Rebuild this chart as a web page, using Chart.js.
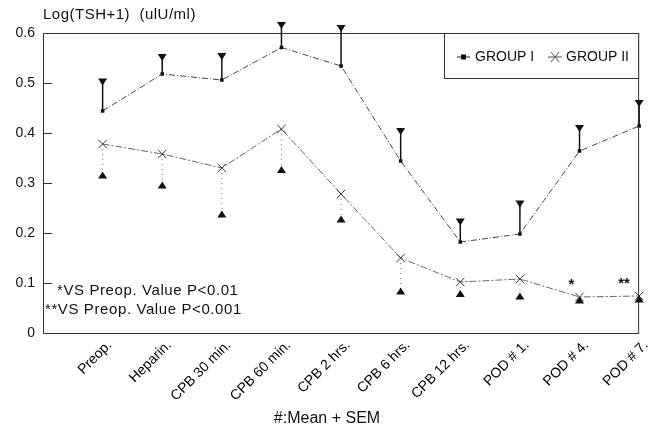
<!DOCTYPE html>
<html>
<head>
<meta charset="utf-8">
<script src="https://cdn.jsdelivr.net/npm/chart.js@4/dist/chart.umd.min.js"></script>
<style>
  html, body { margin: 0; padding: 0; background: #fff; }
  #wrap { width: 655px; height: 427px; }
</style>
</head>
<body>
<div id="wrap"><canvas id="chart" width="655" height="427"></canvas></div>
<script>
const categories = ["Preop.", "Heparin.", "CPB 30 min.", "CPB 60 min.", "CPB 2 hrs.",
  "CPB 6 hrs.", "CPB 12 hrs.", "POD # 1.", "POD # 4.", "POD # 7."];

const groupI = [0.444, 0.518, 0.506, 0.571, 0.534, 0.344, 0.182, 0.198, 0.364, 0.414];
const groupIUpper = [0.502, 0.551, 0.553, 0.615, 0.609, 0.403, 0.222, 0.258, 0.409, 0.459];

const groupII = [0.378, 0.358, 0.330, 0.408, 0.278, 0.150, 0.102, 0.108, 0.072, 0.074];
const groupIILower = [0.316, 0.296, 0.238, 0.327, 0.228, 0.084, 0.079, 0.074, 0.066, 0.068];

const sigMarks = ["", "", "", "", "", "", "", "", "*", "**"];

const yTicks = [0, 0.1, 0.2, 0.3, 0.4, 0.5, 0.6];

const FONT = "Arial, 'Liberation Sans', sans-serif";

function triangle(ctx, x, y, up) {
  const hw = 4.5, hh = 3.5;
  ctx.beginPath();
  if (up) {
    ctx.moveTo(x, y - hh);
    ctx.lineTo(x + hw, y + hh);
    ctx.lineTo(x - hw, y + hh);
  } else {
    ctx.moveTo(x, y + hh);
    ctx.lineTo(x + hw, y - hh);
    ctx.lineTo(x - hw, y - hh);
  }
  ctx.closePath();
  ctx.fill();
}

const decorations = {
  id: "decorations",
  afterDatasetsDraw(chart) {
    const { ctx, chartArea, scales } = chart;
    const yScale = scales.y;
    const m1 = chart.getDatasetMeta(0);
    const m2 = chart.getDatasetMeta(1);
    ctx.save();

    // frame
    ctx.strokeStyle = "#333";
    ctx.lineWidth = 1;
    ctx.strokeRect(chartArea.left + 0.5, chartArea.top + 0.5,
      chartArea.right - chartArea.left - 1, chartArea.bottom - chartArea.top);

    // inner y ticks
    yTicks.forEach(v => {
      const py = Math.round(yScale.getPixelForValue(v)) + 0.5;
      ctx.beginPath();
      ctx.moveTo(chartArea.left, py);
      ctx.lineTo(chartArea.left + 9, py);
      ctx.stroke();
    });

    // group I: mean + SEM
    ctx.fillStyle = "#111";
    ctx.strokeStyle = "#111";
    ctx.lineWidth = 1.5;
    m1.data.forEach((pt, i) => {
      const top = yScale.getPixelForValue(groupIUpper[i]);
      ctx.beginPath();
      ctx.moveTo(pt.x, pt.y);
      ctx.lineTo(pt.x, top);
      ctx.stroke();
      triangle(ctx, pt.x, top, false);
    });

    // group II: mean - SEM (dotted)
    ctx.strokeStyle = "#777";
    ctx.lineWidth = 1;
    ctx.setLineDash([1, 4]);
    m2.data.forEach((pt, i) => {
      const low = yScale.getPixelForValue(groupIILower[i]);
      ctx.beginPath();
      ctx.moveTo(pt.x, pt.y + 5);
      ctx.lineTo(pt.x, low);
      ctx.stroke();
    });
    ctx.setLineDash([]);
    m2.data.forEach((pt, i) => {
      triangle(ctx, pt.x, yScale.getPixelForValue(groupIILower[i]), true);
    });

    // significance marks
    ctx.font = "bold 15px " + FONT;
    ctx.textAlign = "center";
    ctx.textBaseline = "middle";
    m2.data.forEach((pt, i) => {
      if (!sigMarks[i]) return;
      const dx = sigMarks[i].length > 1 ? -15 : -8;
      ctx.fillText(sigMarks[i], pt.x + dx, yScale.getPixelForValue(groupII[i] + 0.024));
    });

    // x axis title
    ctx.font = "16px " + FONT;
    ctx.fillText("#:Mean + SEM", 327, 419);

    // y axis title
    ctx.font = "15px " + FONT;
    ctx.letterSpacing = "0.5px";
    ctx.textAlign = "left";
    ctx.fillText("Log(TSH+1)  (ulU/ml)", chartArea.left, 15);

    // footnotes
    ctx.letterSpacing = "0.6px";
    ctx.fillText("*VS Preop. Value P<0.01", chartArea.left + 14, 291);
    ctx.fillText("**VS Preop. Value P<0.001", chartArea.left + 2, 310);
    ctx.letterSpacing = "0px";

    // legend box
    const lx = 444, ly = chartArea.top, lw = chartArea.right - 444, lh = 45;
    ctx.fillStyle = "#fff";
    ctx.fillRect(lx, ly, lw, lh);
    ctx.strokeStyle = "#333";
    ctx.strokeRect(lx + 0.5, ly + 0.5, lw - 1, lh);
    const my = ly + 24;
    ctx.font = "14px " + FONT;
    ctx.fillStyle = "#111";
    ctx.strokeStyle = "#222";
    ctx.beginPath();
    ctx.moveTo(457, my); ctx.lineTo(470, my);
    ctx.stroke();
    ctx.fillRect(461, my - 2.5, 5, 5);
    ctx.fillText("GROUP I", 475, my);
    ctx.strokeStyle = "#555";
    ctx.beginPath();
    ctx.moveTo(548, my); ctx.lineTo(562, my);
    ctx.moveTo(551, my - 5); ctx.lineTo(559, my + 5);
    ctx.moveTo(559, my - 5); ctx.lineTo(551, my + 5);
    ctx.stroke();
    ctx.fillText("GROUP II", 566, my);

    ctx.restore();
  }
};

new Chart(document.getElementById("chart"), {
  type: "line",
  data: {
    labels: ["", ...categories],
    datasets: [
      {
        label: "GROUP I",
        data: categories.map((c, i) => ({ x: c, y: groupI[i] })),
        borderColor: "#444",
        borderWidth: 1,
        borderDash: [6, 2, 1, 2],
        pointStyle: "rect",
        pointRadius: 2.5,
        pointBackgroundColor: "#111",
        pointBorderColor: "#111",
        pointBorderWidth: 0,
        tension: 0,
        fill: false,
      },
      {
        label: "GROUP II",
        data: categories.map((c, i) => ({ x: c, y: groupII[i] })),
        borderColor: "#666",
        borderWidth: 1,
        borderDash: [7, 2, 2, 2],
        pointStyle: "crossRot",
        pointRadius: 6,
        pointBorderColor: "#333",
        pointBorderWidth: 1,
        tension: 0,
        fill: false,
      },
    ],
  },
  options: {
    responsive: false,
    animation: false,
    layout: { padding: { top: 33, right: 10, left: 0, bottom: 0 } },
    plugins: {
      legend: { display: false },
      tooltip: { enabled: false },
    },
    scales: {
      x: {
        type: "category",
        offset: false,
        grid: { display: false, drawTicks: false },
        border: { display: false },
        ticks: {
          autoSkip: false,
          minRotation: 45,
          maxRotation: 45,
          padding: 4,
          labelOffset: 7,
          color: "#000",
          font: { family: FONT, size: 14 },
        },
        afterFit(scale) { scale.height = 94; },
      },
      y: {
        min: 0,
        max: 0.6,
        grid: { display: false, drawTicks: false },
        border: { display: false },
        ticks: {
          stepSize: 0.1,
          padding: 8,
          color: "#111",
          font: { family: FONT, size: 14 },
          callback: v => (v === 0 ? "0" : v.toFixed(1)),
        },
        afterFit(scale) { scale.width = 43; },
      },
    },
  },
  plugins: [decorations],
});
</script>
</body>
</html>
